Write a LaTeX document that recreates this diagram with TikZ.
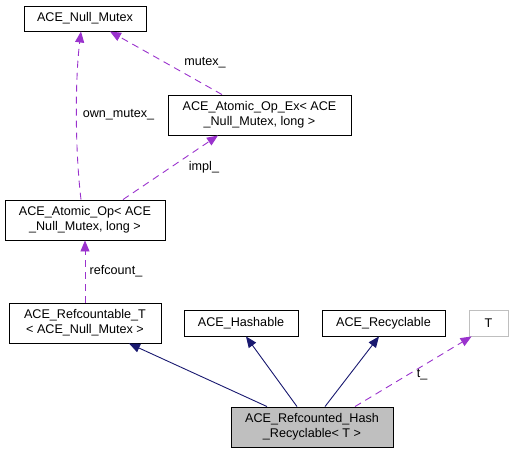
\documentclass[tikz,border=0pt]{standalone}
\usepackage{fontspec}
\setmainfont{Liberation Sans}
\usetikzlibrary{arrows.meta}
\definecolor{edgepurple}{HTML}{9A32CD}
\definecolor{edgenavy}{HTML}{191970}
\definecolor{boxgrey}{HTML}{BFBFBF}
\begin{document}
\begin{tikzpicture}[x=1pt,y=-1pt,
  cls/.style={draw=black,line width=0.9pt,inner sep=0pt,align=center,
    font=\fontsize{12.6}{15}\selectfont},
  member/.style={draw=edgepurple,dashed,dash pattern=on 7pt off 5pt,line width=0.9pt,
    -{Triangle[length=11pt,width=9pt]}},
  inherit/.style={draw=edgenavy,line width=0.9pt,
    -{Triangle[length=11pt,width=9pt]}},
  lbl/.style={font=\fontsize{12.6}{15}\selectfont,inner sep=0pt}]
\useasboundingbox (0,0) rectangle (514,453);
\node[cls,minimum width=122pt,minimum height=25pt] (nm) at (85,18.5) {ACE\_Null\_Mutex};
\node[cls,minimum width=183pt,minimum height=40pt] (aoex) at (259.5,115) {ACE\_Atomic\_Op\_Ex< ACE\\\_Null\_Mutex, long >};
\node[cls,minimum width=160pt,minimum height=40pt] (ao) at (85,220) {ACE\_Atomic\_Op< ACE\\\_Null\_Mutex, long >};
\node[cls,minimum width=152pt,minimum height=40pt] (rt) at (85,323) {ACE\_Refcountable\_T\\< ACE\_Null\_Mutex >};
\node[cls,minimum width=114pt,minimum height=26pt] (hs) at (241,323) {ACE\_Hashable};
\node[cls,minimum width=123pt,minimum height=26pt] (rc) at (383.5,323) {ACE\_Recyclable};
\node[cls,draw=boxgrey,minimum width=39pt,minimum height=26pt] (T) at (488.5,323) {T};
\node[cls,fill=boxgrey,minimum width=162pt,minimum height=40pt] (main) at (312,427) {ACE\_Refcounted\_Hash\\\_Recyclable< T >};
% member edges
\draw[member] ([xshift=-4pt]ao.north) .. controls (75,150) and (75,80) .. ([xshift=-4pt]nm.south);
\draw[member] ([xshift=-37.5pt]aoex.north) -- ([xshift=25pt]nm.south);
\draw[member] ([xshift=38pt]ao.north) -- ([xshift=-41.5pt]aoex.south);
\draw[member] (rt.north) -- (ao.south);
\draw[member] ([xshift=43pt]main.north) -- ([xshift=3pt]T.south west);
% inheritance edges
\draw[inherit] ([xshift=-45pt]main.north) -- ([xshift=44pt]rt.south);
\draw[inherit] ([xshift=-15pt]main.north) -- ([xshift=5pt]hs.south);
\draw[inherit] ([xshift=13pt]main.north) -- ([xshift=-4.5pt]rc.south);
% labels
\node[lbl] (l1) at (118.5,115) {own\_mutex\_};
\node[lbl] (l2) at (205,63) {mutex\_};
\node[lbl] (l3) at (204,167) {impl\_};
\node[lbl] (l4) at (116,271) {refcount\_};
\node[lbl] (l5) at (422,375) {t\_};
\end{tikzpicture}
\end{document}
